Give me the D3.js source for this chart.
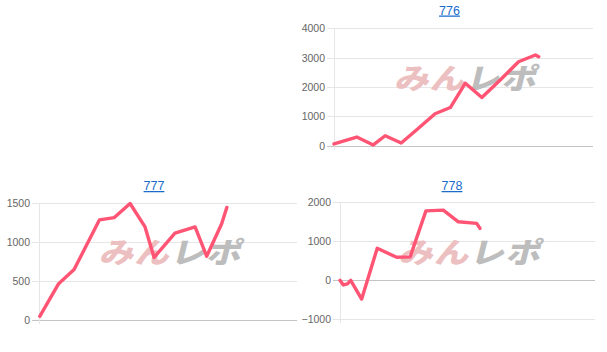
<!DOCTYPE html>
<html>
<head>
<meta charset="utf-8">
<script src="https://cdn.jsdelivr.net/npm/d3@7"></script>
<style>
  html, body { margin: 0; padding: 0; background: #fff; }
  svg { display: block; }
</style>
</head>
<body>
<svg id="chart" width="607" height="352"></svg>
<script>
// ---- data ----
const titles = ["776", "777", "778"];
const games776 = [0, 880, 1520, 1980, 2600, 3200, 3910, 4500, 5080, 5720, 6430, 7140, 7790, 7920];
const diff776  = [60, 295, 25, 340, 90, 545, 1090, 1300, 2130, 1640, 2240, 2860, 3090, 3030];
const games777 = [30, 750, 1360, 2340, 2920, 3530, 4110, 4460, 5270, 6050, 6500, 7080, 7280];
const diff777  = [47, 460, 645, 1280, 1310, 1490, 1190, 800, 1110, 1190, 815, 1230, 1440];
const games778 = [0, 130, 290, 420, 850, 1460, 2220, 2750, 3370, 4050, 4640, 5360, 5490];
const diff778  = [0, -120, -90, 0, -480, 820, 590, 600, 1780, 1800, 1500, 1460, 1330];
const yTicks776 = [0, 1000, 2000, 3000, 4000];
const yTicks777 = [0, 500, 1000, 1500];
const yTicks778 = [-1000, 0, 1000, 2000];
const xMax = 10000;

// ---- layout ----
const panels = [
  { title: titles[0], xs: games776, ys: diff776, ticks: yTicks776,
    left: 334, right: 592.5, top: 28.3, bottom: 145.7, titleX: 449.5, titleY: 14.5 },
  { title: titles[1], xs: games777, ys: diff777, ticks: yTicks777,
    left: 39, right: 297, top: 202.7, bottom: 320, titleX: 154, titleY: 190 },
  { title: titles[2], xs: games778, ys: diff778, ticks: yTicks778,
    left: 340, right: 595, top: 202.3, bottom: 319.3, titleX: 452, titleY: 190 }
];

const svg = d3.select("#chart");
const FONT = "'Liberation Sans', Arial, Helvetica, sans-serif";

panels.forEach(p => {
  const g = svg.append("g");
  const x = d3.scaleLinear().domain([0, xMax]).range([p.left, p.right]);
  const y = d3.scaleLinear().domain(d3.extent(p.ticks)).range([p.bottom, p.top]);

  // gridlines + tick marks (y axis)
  const yAxis = d3.axisLeft(y).tickValues(p.ticks)
    .tickSize(-(p.right - p.left)).tickSizeOuter(0).tickPadding(4)
    .tickFormat(d3.format("d"));
  const ax = g.append("g").attr("transform", `translate(${p.left},0)`).call(yAxis);
  ax.select(".domain").remove();
  ax.selectAll(".tick line")
    .attr("x1", -7)
    .attr("stroke", d => d === 0 ? "#c4c4c4" : "#e6e6e6")
    .attr("stroke-width", 1)
    .attr("shape-rendering", "crispEdges");
  ax.selectAll(".tick text")
    .attr("x", -9)
    .attr("fill", "#666")
    .style("font-family", FONT)
    .style("font-size", "10.5px");

  // left vertical axis line
  g.append("line")
    .attr("x1", p.left).attr("x2", p.left)
    .attr("y1", p.top).attr("y2", p.bottom + 4)
    .attr("stroke", "#e6e6e6").attr("shape-rendering", "crispEdges");

  // watermark
  const wx = (p.left + p.right) / 2 + 2;
  const wy = p.top + 0.43 * (p.bottom - p.top) + 10;
  const wm = g.append("text")
    .attr("transform", `translate(${wx},${wy}) skewX(-14) scale(1.08,0.9)`)
    .attr("text-anchor", "middle")
    .style("font-family", "'Noto Sans CJK JP', sans-serif")
    .style("font-weight", "900")
    .style("font-size", "32px")
    .style("letter-spacing", "1px");
  wm.append("tspan").attr("fill", "#ecbfc1").text("みん");
  wm.append("tspan").attr("fill", "#bdbdbd").text("レポ");

  // line
  const pts = p.xs.map((v, i) => [v, p.ys[i]]);
  g.append("path")
    .datum(pts)
    .attr("fill", "none")
    .attr("stroke", "#ff5473")
    .attr("stroke-width", 3.4)
    .attr("stroke-linejoin", "round")
    .attr("stroke-linecap", "round")
    .attr("d", d3.line().x(d => x(d[0])).y(d => y(d[1])));

  // title
  g.append("text")
    .attr("x", p.titleX).attr("y", p.titleY)
    .attr("text-anchor", "middle")
    .attr("fill", "#1a6ccc")
    .style("font-family", FONT)
    .style("font-size", "12.5px")
    .style("text-decoration", "underline")
    .text(p.title);
});
</script>
</body>
</html>
